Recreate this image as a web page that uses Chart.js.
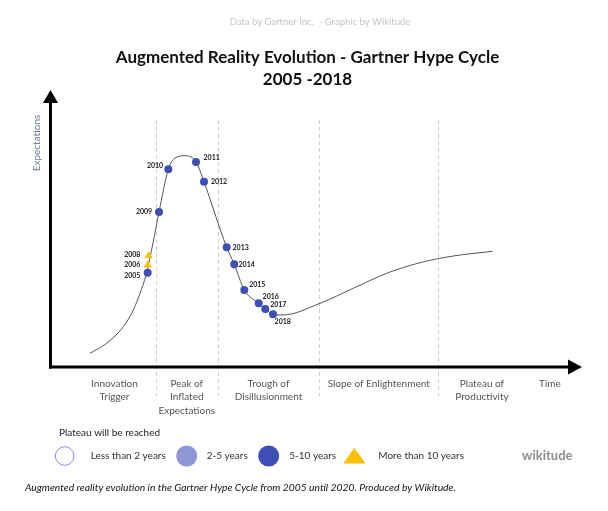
<!DOCTYPE html>
<html><head><meta charset="utf-8">
<script src="https://cdn.jsdelivr.net/npm/chart.js@4/dist/chart.umd.min.js"></script>
<style>html,body{margin:0;padding:0;background:#fff;}canvas{display:block;}</style>
</head><body>
<canvas id="c" width="608" height="511"></canvas>
<script>
// Hype curve (time 0-100, expectations 0-100)
const curveTime   = [7.52, 10.66, 13.78, 15.66, 16.92, 18.05, 19.36, 20.49, 22.24, 23.50, 25.56, 27.44, 28.95, 31.02, 33.21, 34.64, 36.52, 39.23, 40.47, 41.92, 43.80, 50.75, 57.01, 63.29, 69.55, 75.81, 83.21];
const curveExpect = [4.95, 8.56, 14.55, 20.58, 26.61, 33.21, 44.77, 55.96, 71.37, 75.45, 76.28, 74.01, 66.90, 55.23, 43.21, 37.08, 27.80, 23.00, 20.94, 19.03, 18.77, 23.00, 28.41, 33.83, 37.65, 40.07, 41.77];

// Years where plateau will be reached in 5-10 years
const years5to10  = ['2005', '2009', '2010', '2011', '2012', '2013', '2014', '2015', '2016', '2017', '2018'];
const time5to10   = [18.36, 20.49, 22.24, 27.44, 28.95, 33.21, 34.64, 36.52, 39.23, 40.47, 41.92];
const expect5to10 = [34.04, 55.96, 71.37, 74.01, 66.90, 43.21, 37.08, 27.80, 23.00, 20.94, 19.03];

// Years where plateau will be reached in more than 10 years
const yearsOver10  = ['2006', '2008'];
const timeOver10   = [18.36, 18.55];
const expectOver10 = [36.82, 40.18];

// Phases
const phaseLabels = [['Innovation', 'Trigger'], ['Peak of', 'Inflated', 'Expectations'], ['Trough of', 'Disillusionment'], ['Slope of Enlightenment'], ['Plateau of', 'Productivity'], ['Time']];
const phaseLabelTime = [12.12, 25.71, 41.07, 61.79, 81.20, 93.98];
const phaseBoundaries = [19.87, 31.64, 50.62, 72.88];

const legendLabels = ['Less than 2 years', '2-5 years', '5-10 years', 'More than 10 years'];

// ---- styles ----
const FONT = 'Lato, "Open Sans", sans-serif';
const DARK_BLUE = '#3f4eb4';
const LIGHT_BLUE = '#8c97d4';
const RING_BLUE = '#8590da';
const YELLOW = '#ffc000';
const offs5to10 = [[-15.4,3.3],[-15,0],[-13.3,-3.6],[15.7,-4.3],[15,0],[14,0],[12.4,0],[13,-5],[12,-6.6],[13,-4],[9.7,7.7]];
const offsOver10 = [[-15.4,0],[-16.4,-0.7]];

const decor = {
  id: 'decor',
  beforeDatasetsDraw(chart) {
    const ctx = chart.ctx, xs = chart.scales.x;
    ctx.save();
    ctx.strokeStyle = '#cfcfcf';
    ctx.lineWidth = 1;
    ctx.setLineDash([4, 3]);
    phaseBoundaries.forEach(v => {
      const x = Math.round(xs.getPixelForValue(v)) + 0.5;
      ctx.beginPath(); ctx.moveTo(x, 120); ctx.lineTo(x, 396); ctx.stroke();
    });
    ctx.restore();
  },
  afterDatasetsDraw(chart) {
    const ctx = chart.ctx, a = chart.chartArea;
    ctx.save();
    // axes
    ctx.strokeStyle = '#000'; ctx.fillStyle = '#000'; ctx.lineWidth = 3;
    const ax = a.left + 0.5, ay = a.bottom;
    ctx.beginPath(); ctx.moveTo(ax, ay + 1.5); ctx.lineTo(ax, a.top + 12); ctx.stroke();
    ctx.beginPath(); ctx.moveTo(ax - 1.5, ay); ctx.lineTo(a.right - 13, ay); ctx.stroke();
    ctx.beginPath(); ctx.moveTo(ax, a.top); ctx.lineTo(ax - 7.5, a.top + 13); ctx.lineTo(ax + 7.5, a.top + 13); ctx.closePath(); ctx.fill();
    ctx.beginPath(); ctx.moveTo(a.right, ay); ctx.lineTo(a.right - 14, ay - 7.5); ctx.lineTo(a.right - 14, ay + 7.5); ctx.closePath(); ctx.fill();

    // point labels
    ctx.fillStyle = '#222';
    ctx.font = 'bold 7px ' + FONT;
    ctx.textAlign = 'center'; ctx.textBaseline = 'middle';
    const m1 = chart.getDatasetMeta(1), m2 = chart.getDatasetMeta(2);
    m1.data.forEach((p, i) => ctx.fillText(years5to10[i], p.x + offs5to10[i][0], p.y + offs5to10[i][1]));
    m2.data.forEach((p, i) => ctx.fillText(yearsOver10[i], p.x + offsOver10[i][0], p.y + offsOver10[i][1]));

    // Y axis title
    ctx.save();
    ctx.translate(37, 143); ctx.rotate(-Math.PI / 2);
    ctx.fillStyle = '#6f7a93'; ctx.font = '10px ' + FONT;
    ctx.fillText('Expectations', 0, 0);
    ctx.restore();

    // top credit + title
    ctx.fillStyle = '#c4c4cc'; ctx.font = '9.5px ' + FONT;
    ctx.fillText('Data by Gartner Inc.  - Graphic by Wikitude', 320, 22);
    ctx.fillStyle = '#111'; ctx.font = 'bold 17px ' + FONT;
    ctx.fillText('Augmented Reality Evolution - Gartner Hype Cycle', 307.5, 57.5);
    ctx.fillText('2005 -2018', 307.5, 79.5);

    // legend
    ctx.textAlign = 'left';
    ctx.fillStyle = '#222'; ctx.font = '10px ' + FONT;
    ctx.fillText('Plateau will be reached', 59, 432.5);
    const ly = 456;
    ctx.strokeStyle = RING_BLUE; ctx.lineWidth = 1;
    ctx.beginPath(); ctx.arc(64.7, ly, 9.3, 0, Math.PI * 2); ctx.stroke();
    ctx.fillStyle = LIGHT_BLUE;
    ctx.beginPath(); ctx.arc(186.7, ly, 10.5, 0, Math.PI * 2); ctx.fill();
    ctx.fillStyle = DARK_BLUE;
    ctx.beginPath(); ctx.arc(268.7, ly, 10.5, 0, Math.PI * 2); ctx.fill();
    ctx.fillStyle = YELLOW;
    ctx.beginPath(); ctx.moveTo(354.3, 448); ctx.lineTo(365.5, 463.5); ctx.lineTo(343.1, 463.5); ctx.closePath(); ctx.fill();
    ctx.fillStyle = '#333'; ctx.font = '10px ' + FONT;
    const lx = [90.7, 206.7, 289.3, 378.3];
    legendLabels.forEach((t, i) => ctx.fillText(t, lx[i], ly));

    // wikitude mark
    ctx.fillStyle = '#8e8e8e'; ctx.font = 'bold 13px ' + FONT;
    ctx.fillText('wikitude', 522, 456);

    // caption
    ctx.fillStyle = '#111'; ctx.font = 'italic 10.3px ' + FONT;
    ctx.fillText('Augmented reality evolution in the Gartner Hype Cycle from 2005 until 2020. Produced by Wikitude.', 25, 488);
    ctx.restore();
  }
};

new Chart(document.getElementById('c'), {
  type: 'scatter',
  data: {
    datasets: [
      {
        type: 'line', label: 'Hype cycle',
        data: curveTime.map((x, i) => ({ x, y: curveExpect[i] })),
        borderColor: '#555', borderWidth: 1, pointRadius: 0, fill: false,
        cubicInterpolationMode: 'monotone', order: 3
      },
      {
        label: '5-10 years',
        data: time5to10.map((x, i) => ({ x, y: expect5to10[i] })),
        backgroundColor: DARK_BLUE, borderWidth: 0, pointRadius: 4, pointStyle: 'circle', order: 2
      },
      {
        label: 'More than 10 years',
        data: timeOver10.map((x, i) => ({ x, y: expectOver10[i] })),
        backgroundColor: YELLOW, borderWidth: 0, pointRadius: 4.8, pointStyle: 'triangle', order: 1
      }
    ]
  },
  options: {
    responsive: false, animation: false,
    layout: { padding: { left: 50, right: 26, top: 90, bottom: 84 } },
    plugins: { legend: { display: false }, tooltip: { enabled: false }, title: { display: false } },
    scales: {
      x: {
        type: 'linear', min: 0, max: 100,
        grid: { display: false, drawTicks: false }, border: { display: false },
        afterBuildTicks: s => { s.ticks = phaseLabelTime.map(v => ({ value: v })); },
        afterFit: s => { s.height = 60; },
        ticks: {
          autoSkip: false, maxRotation: 0, minRotation: 0, padding: 10, color: '#555',
          font: { family: FONT, size: 10, lineHeight: 1.35 },
          callback: (v, i) => phaseLabels[i]
        }
      },
      y: { display: false, min: 0, max: 100 }
    }
  },
  plugins: [decor]
});
</script>
</body></html>
